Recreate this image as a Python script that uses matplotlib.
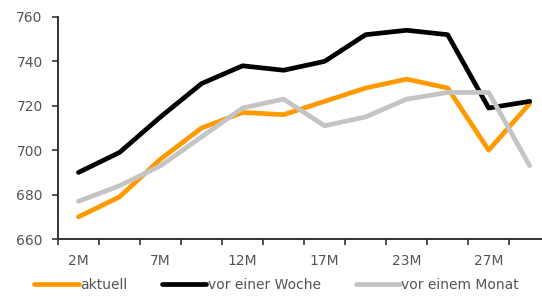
import numpy as np
import matplotlib.pyplot as plt

# Laufzeiten (Kategorien), nur jede zweite beschriftet
labels = ['2M', '', '7M', '', '12M', '', '17M', '', '23M', '', '27M', '']
aktuell = [670, 679, 696, 710, 717, 716, 722, 728, 732, 728, 700, 721]
woche = [690, 699, 715, 730, 738, 736, 740, 752, 754, 752, 719, 722]
monat = [677, 684, 693, 706, 719, 723, 711, 715, 723, 726, 726, 693]

fig = plt.figure(figsize=(5.42, 2.97), dpi=100)
ax = fig.add_axes([0.107, 0.195, 0.893, 0.748])

x = np.arange(len(labels))
ax.plot(x, aktuell, color='#FF9900', lw=3.4, label='aktuell', solid_capstyle='round')
ax.plot(x, woche, color='black', lw=3.4, label='vor einer Woche', solid_capstyle='round')
ax.plot(x, monat, color='#C4C4C4', lw=3.4, label='vor einem Monat', solid_capstyle='round')

ax.set_ylim(660, 760)
ax.set_yticks(np.arange(660, 761, 20))
ax.set_xlim(-0.5, 11.3)
# Striche zwischen den Kategorien, Beschriftung in der Mitte
ax.set_xticks(np.arange(-0.5, 11.5, 1))
ax.set_xticklabels([])
ax.set_xticks(x, minor=True)
ax.set_xticklabels(labels, minor=True)
ax.tick_params(axis='x', which='minor', length=0, pad=11)
ax.tick_params(axis='both', which='major', length=4, width=1.2, color='#333333',
               labelcolor='#555555', labelsize=10)
ax.tick_params(axis='x', which='minor', labelcolor='#555555', labelsize=10)
ax.tick_params(axis='y', pad=7)

for s in ['top', 'right']:
    ax.spines[s].set_visible(False)
for s in ['left', 'bottom']:
    ax.spines[s].set_linewidth(1.4)
    ax.spines[s].set_color('#333333')

leg = fig.legend(loc='lower left', bbox_to_anchor=(0.04, -0.025), ncol=3, frameon=False,
                 fontsize=10, handlelength=3.2, handletextpad=0.1, columnspacing=2.5)
for t in leg.get_texts():
    t.set_color('#555555')

fig.savefig('out.png', dpi=100)
